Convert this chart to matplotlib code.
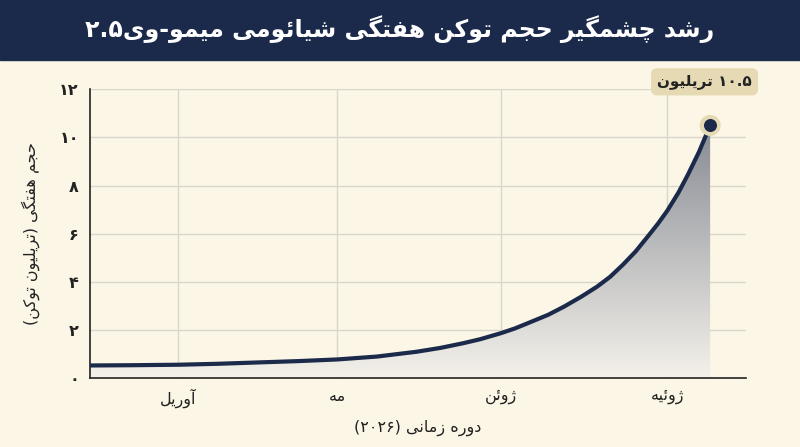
import re
import numpy as np
import matplotlib
matplotlib.use("Agg")
import matplotlib.pyplot as plt
from matplotlib.patches import Polygon
from matplotlib.colors import LinearSegmentedColormap

# ---------- simple Persian shaping ----------
FORMS = {
 'ا':(0xFE8D,0xFE8E,None,None),'آ':(0xFE81,0xFE82,None,None),
 'ت':(0xFE95,0xFE96,0xFE97,0xFE98),'ج':(0xFE9D,0xFE9E,0xFE9F,0xFEA0),
 'چ':(0xFB7A,0xFB7B,0xFB7C,0xFB7D),'ح':(0xFEA1,0xFEA2,0xFEA3,0xFEA4),
 'د':(0xFEA9,0xFEAA,None,None),'ر':(0xFEAD,0xFEAE,None,None),
 'ز':(0xFEAF,0xFEB0,None,None),'ژ':(0xFB8A,0xFB8B,None,None),
 'ش':(0xFEB5,0xFEB6,0xFEB7,0xFEB8),'ف':(0xFED1,0xFED2,0xFED3,0xFED4),
 'ک':(0xFB8E,0xFB8F,0xFB90,0xFB91),'گ':(0xFB92,0xFB93,0xFB94,0xFB95),
 'ل':(0xFEDD,0xFEDE,0xFEDF,0xFEE0),'م':(0xFEE1,0xFEE2,0xFEE3,0xFEE4),
 'ن':(0xFEE5,0xFEE6,0xFEE7,0xFEE8),'ه':(0xFEE9,0xFEEA,0xFEEB,0xFEEC),
 'و':(0xFEED,0xFEEE,None,None),'ی':(0xFBFC,0xFBFD,0xFBFE,0xFBFF),
 'ئ':(0xFE89,0xFE8A,0xFE8B,0xFE8C),
}
def shape(s):
    out = []
    for i, c in enumerate(s):
        if c not in FORMS:
            out.append(c); continue
        f = FORMS[c]
        pj = i > 0 and s[i-1] in FORMS and FORMS[s[i-1]][2] is not None
        nj = f[2] is not None and i + 1 < len(s) and s[i+1] in FORMS
        if pj and nj: cp = f[3]
        elif pj: cp = f[1]
        elif nj: cp = f[2]
        else: cp = f[0]
        out.append(chr(cp))
    shaped = ''.join(out)
    runs = re.findall(r'[۰-۹0-9]+(?:\.[۰-۹0-9]+)*|[^۰-۹0-9]+', shaped)
    mirror = {'(': ')', ')': '('}
    vis = []
    for r in reversed(runs):
        if re.match(r'[۰-۹0-9]', r):
            vis.append(r)
        else:
            vis.append(''.join(mirror.get(ch, ch) for ch in reversed(r)))
    return ''.join(vis)

plt.rcParams['font.family'] = ['DejaVu Sans']

# ---------- data ----------
title = 'رشد چشمگیر حجم توکن هفتگی شیائومی میمو-وی۲.۵'
ylabel = 'حجم هفتگی (تریلیون توکن)'
xlabel = 'دوره زمانی (۲۰۲۶)'
month_labels = ['آوریل', 'مه', 'ژوئن', 'ژوئیه']
month_pos = [0, 1.0, 2.03, 3.08]
ytick_vals = [0, 2, 4, 6, 8, 10, 12]
ytick_labels = ['۰', '۲', '۴', '۶', '۸', '۱۰', '۱۲']
x_vals = [-0.557, -0.3, 0.0, 0.25, 0.52, 0.75, 1.0, 1.25, 1.5, 1.65, 1.79, 1.9, 2.03,
          2.12, 2.22, 2.33, 2.43, 2.54, 2.64, 2.72, 2.80, 2.88, 2.96, 3.02, 3.08,
          3.15, 3.21, 3.28, 3.35]
y_vals = [0.51, 0.52, 0.54, 0.58, 0.64, 0.69, 0.76, 0.88, 1.08, 1.24, 1.43, 1.6, 1.85,
          2.05, 2.32, 2.62, 2.96, 3.38, 3.8, 4.2, 4.7, 5.25, 5.9, 6.4, 6.95,
          7.7, 8.45, 9.4, 10.5]
peak_label = '۱۰.۵ تریلیون'

navy = '#1b2a4a'
bg = '#fbf6e6'

fig = plt.figure(figsize=(8, 4.47), dpi=100)
fig.patch.set_facecolor(bg)
fig.patches.append(plt.Rectangle((0, 0.865), 1, 0.135, transform=fig.transFigure,
                                 color=navy, zorder=0))
fig.text(0.5, 0.935, shape(title), ha='center', va='center', color='white',
         fontsize=17, fontweight='bold')

ax = fig.add_axes([0.1125, 0.155, 0.82, 0.645])
ax.set_facecolor(bg)
ax.set_xlim(-0.557, 3.576)
ax.set_ylim(0, 12)

xs = np.array(x_vals); ys = np.array(y_vals)
grad = np.linspace(0, 1, 256).reshape(-1, 1)
cmap = LinearSegmentedColormap.from_list('g', ['#f4f1ea', '#878b94'])
im = ax.imshow(grad, cmap=cmap, origin='lower', aspect='auto',
               extent=[xs[0], xs[-1], 0, ys[-1]], zorder=1)
poly = Polygon(np.column_stack([np.r_[xs, xs[-1], xs[0]], np.r_[ys, 0, 0]]), closed=True,
               facecolor='none', edgecolor='none', transform=ax.transData)
ax.add_patch(poly)
im.set_clip_path(poly)

ax.plot(xs, ys, color=navy, lw=3, zorder=3, solid_capstyle='round', solid_joinstyle='round')
ax.scatter([xs[-1]], [ys[-1]], s=230, color='#e6dab4', zorder=4, edgecolor='none')
ax.scatter([xs[-1]], [ys[-1]], s=70, color=navy, zorder=5)
ax.annotate(shape(peak_label), (xs[-1], ys[-1]), xytext=(-4, 26), textcoords='offset points',
            ha='center', va='bottom', fontsize=11, fontweight='bold', color='#222222',
            bbox=dict(boxstyle='round,pad=0.4', fc='#e6dab4', ec='none'), zorder=6)

ax.set_xticks(month_pos)
ax.set_xticklabels([shape(m) for m in month_labels], fontsize=11.5, color='#222222')
ax.set_yticks(ytick_vals)
ax.set_yticklabels(ytick_labels, fontsize=11.5, color='#222222', fontweight='bold')
ax.tick_params(length=0, pad=8)
ax.grid(True, color='#d9d6cc', lw=1)
ax.set_axisbelow(True)
for sp in ['top', 'right']:
    ax.spines[sp].set_visible(False)
for sp in ['left', 'bottom']:
    ax.spines[sp].set_color('#222222'); ax.spines[sp].set_linewidth(1.2)
ax.set_xlabel(shape(xlabel), fontsize=11.5, color='#222222', labelpad=8)
ax.set_ylabel(shape(ylabel), fontsize=11.5, color='#222222', labelpad=14)

fig.savefig('out.png', dpi=100, facecolor=bg)
